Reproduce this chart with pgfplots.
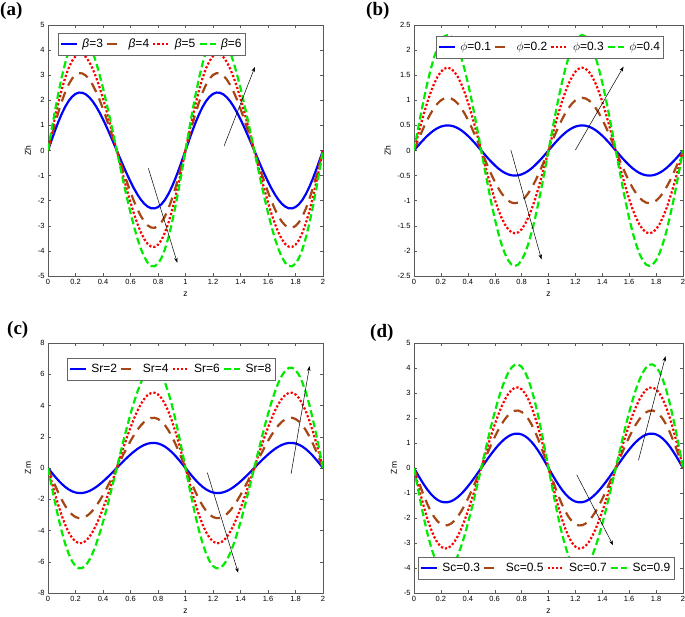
\documentclass[border=0pt]{standalone}
\usepackage{fontspec}
\setmainfont{Liberation Sans}
\newfontfamily\panelfont{Liberation Serif}
\usepackage{pgfplots}
\pgfplotsset{compat=1.18}
\usepackage{pgfplotstable}
\usetikzlibrary{arrows.meta}

\definecolor{cblue}{RGB}{0,0,255}
\definecolor{cbrown}{RGB}{165,70,20}
\definecolor{cred}{RGB}{255,0,0}
\definecolor{cgreen}{RGB}{0,235,0}

% panel (a): beta = 3,4,5,6
\pgfplotstableread{
z a b c d
0 0 0 0 0
0.025 0.395 0.528 0.658 0.791
0.05 0.778 1.039 1.296 1.557
0.075 1.137 1.518 1.894 2.274
0.1 1.461 1.951 2.433 2.923
0.125 1.741 2.324 2.900 3.483
0.15 1.970 2.630 3.281 3.940
0.175 2.142 2.860 3.568 4.285
0.2 2.255 3.010 3.755 4.510
0.225 2.307 3.080 3.842 4.614
0.25 2.300 3.070 3.830 4.600
0.275 2.236 2.985 3.724 4.472
0.3 2.120 2.830 3.530 4.240
0.325 1.956 2.611 3.258 3.913
0.35 1.751 2.338 2.916 3.503
0.375 1.511 2.017 2.517 3.023
0.4 1.243 1.659 2.069 2.485
0.425 0.951 1.270 1.584 1.902
0.45 0.643 0.859 1.071 1.286
0.475 0.324 0.433 0.540 0.649
0.5 0 0 0 0
0.525 -0.324 -0.433 -0.540 -0.649
0.55 -0.643 -0.859 -1.071 -1.286
0.575 -0.951 -1.270 -1.584 -1.902
0.6 -1.243 -1.659 -2.069 -2.485
0.625 -1.511 -2.017 -2.517 -3.023
0.65 -1.751 -2.338 -2.916 -3.503
0.675 -1.956 -2.611 -3.258 -3.913
0.7 -2.120 -2.830 -3.530 -4.240
0.725 -2.236 -2.985 -3.724 -4.472
0.75 -2.300 -3.070 -3.830 -4.600
0.775 -2.307 -3.080 -3.842 -4.614
0.8 -2.255 -3.010 -3.755 -4.510
0.825 -2.142 -2.860 -3.568 -4.285
0.85 -1.970 -2.630 -3.281 -3.940
0.875 -1.741 -2.324 -2.900 -3.483
0.9 -1.461 -1.951 -2.433 -2.923
0.925 -1.137 -1.518 -1.894 -2.274
0.95 -0.778 -1.039 -1.296 -1.557
0.975 -0.395 -0.528 -0.658 -0.791
1 0 0 0 0
1.025 0.395 0.528 0.658 0.791
1.05 0.778 1.039 1.296 1.557
1.075 1.137 1.518 1.894 2.274
1.1 1.461 1.951 2.433 2.923
1.125 1.741 2.324 2.900 3.483
1.15 1.970 2.630 3.281 3.940
1.175 2.142 2.860 3.568 4.285
1.2 2.255 3.010 3.755 4.510
1.225 2.307 3.080 3.842 4.614
1.25 2.300 3.070 3.830 4.600
1.275 2.236 2.985 3.724 4.472
1.3 2.120 2.830 3.530 4.240
1.325 1.956 2.611 3.258 3.913
1.35 1.751 2.338 2.916 3.503
1.375 1.511 2.017 2.517 3.023
1.4 1.243 1.659 2.069 2.485
1.425 0.951 1.270 1.584 1.902
1.45 0.643 0.859 1.071 1.286
1.475 0.324 0.433 0.540 0.649
1.5 0 0 0 0
1.525 -0.324 -0.433 -0.540 -0.649
1.55 -0.643 -0.859 -1.071 -1.286
1.575 -0.951 -1.270 -1.584 -1.902
1.6 -1.243 -1.659 -2.069 -2.485
1.625 -1.511 -2.017 -2.517 -3.023
1.65 -1.751 -2.338 -2.916 -3.503
1.675 -1.956 -2.611 -3.258 -3.913
1.7 -2.120 -2.830 -3.530 -4.240
1.725 -2.236 -2.985 -3.724 -4.472
1.75 -2.300 -3.070 -3.830 -4.600
1.775 -2.307 -3.080 -3.842 -4.614
1.8 -2.255 -3.010 -3.755 -4.510
1.825 -2.142 -2.860 -3.568 -4.285
1.85 -1.970 -2.630 -3.281 -3.940
1.875 -1.741 -2.324 -2.900 -3.483
1.9 -1.461 -1.951 -2.433 -2.923
1.925 -1.137 -1.518 -1.894 -2.274
1.95 -0.778 -1.039 -1.296 -1.557
1.975 -0.395 -0.528 -0.658 -0.791
2 0 0 0 0
}\tabA

% panel (b): phi = 0.1,0.2,0.3,0.4
\pgfplotstableread{
z a b c d
0 0 0 0 0
0.025 0.078 0.164 0.258 0.360
0.05 0.155 0.324 0.510 0.711
0.075 0.227 0.477 0.749 1.044
0.1 0.294 0.617 0.970 1.352
0.125 0.354 0.742 1.167 1.626
0.15 0.405 0.849 1.335 1.861
0.175 0.446 0.936 1.470 2.049
0.2 0.476 0.999 1.569 2.187
0.225 0.494 1.037 1.630 2.272
0.25 0.500 1.050 1.650 2.300
0.275 0.494 1.037 1.630 2.272
0.3 0.476 0.999 1.569 2.187
0.325 0.446 0.936 1.470 2.049
0.35 0.405 0.849 1.335 1.861
0.375 0.354 0.742 1.167 1.626
0.4 0.294 0.617 0.970 1.352
0.425 0.227 0.477 0.749 1.044
0.45 0.155 0.324 0.510 0.711
0.475 0.078 0.164 0.258 0.360
0.5 0 0 0 0
0.525 -0.078 -0.164 -0.258 -0.360
0.55 -0.155 -0.324 -0.510 -0.711
0.575 -0.227 -0.477 -0.749 -1.044
0.6 -0.294 -0.617 -0.970 -1.352
0.625 -0.354 -0.742 -1.167 -1.626
0.65 -0.405 -0.849 -1.335 -1.861
0.675 -0.446 -0.936 -1.470 -2.049
0.7 -0.476 -0.999 -1.569 -2.187
0.725 -0.494 -1.037 -1.630 -2.272
0.75 -0.500 -1.050 -1.650 -2.300
0.775 -0.494 -1.037 -1.630 -2.272
0.8 -0.476 -0.999 -1.569 -2.187
0.825 -0.446 -0.936 -1.470 -2.049
0.85 -0.405 -0.849 -1.335 -1.861
0.875 -0.354 -0.742 -1.167 -1.626
0.9 -0.294 -0.617 -0.970 -1.352
0.925 -0.227 -0.477 -0.749 -1.044
0.95 -0.155 -0.324 -0.510 -0.711
0.975 -0.078 -0.164 -0.258 -0.360
1 0 0 0 0
1.025 0.078 0.164 0.258 0.360
1.05 0.155 0.324 0.510 0.711
1.075 0.227 0.477 0.749 1.044
1.1 0.294 0.617 0.970 1.352
1.125 0.354 0.742 1.167 1.626
1.15 0.405 0.849 1.335 1.861
1.175 0.446 0.936 1.470 2.049
1.2 0.476 0.999 1.569 2.187
1.225 0.494 1.037 1.630 2.272
1.25 0.500 1.050 1.650 2.300
1.275 0.494 1.037 1.630 2.272
1.3 0.476 0.999 1.569 2.187
1.325 0.446 0.936 1.470 2.049
1.35 0.405 0.849 1.335 1.861
1.375 0.354 0.742 1.167 1.626
1.4 0.294 0.617 0.970 1.352
1.425 0.227 0.477 0.749 1.044
1.45 0.155 0.324 0.510 0.711
1.475 0.078 0.164 0.258 0.360
1.5 0 0 0 0
1.525 -0.078 -0.164 -0.258 -0.360
1.55 -0.155 -0.324 -0.510 -0.711
1.575 -0.227 -0.477 -0.749 -1.044
1.6 -0.294 -0.617 -0.970 -1.352
1.625 -0.354 -0.742 -1.167 -1.626
1.65 -0.405 -0.849 -1.335 -1.861
1.675 -0.446 -0.936 -1.470 -2.049
1.7 -0.476 -0.999 -1.569 -2.187
1.725 -0.494 -1.037 -1.630 -2.272
1.75 -0.500 -1.050 -1.650 -2.300
1.775 -0.494 -1.037 -1.630 -2.272
1.8 -0.476 -0.999 -1.569 -2.187
1.825 -0.446 -0.936 -1.470 -2.049
1.85 -0.405 -0.849 -1.335 -1.861
1.875 -0.354 -0.742 -1.167 -1.626
1.9 -0.294 -0.617 -0.970 -1.352
1.925 -0.227 -0.477 -0.749 -1.044
1.95 -0.155 -0.324 -0.510 -0.711
1.975 -0.078 -0.164 -0.258 -0.360
2 0 0 0 0
}\tabB

% panel (c): Sr = 2,4,6,8
\pgfplotstableread{
z a b c d
0 0 0 0 0
0.025 -0.275 -0.550 -0.825 -1.100
0.05 -0.541 -1.083 -1.624 -2.166
0.075 -0.791 -1.582 -2.373 -3.164
0.1 -1.017 -2.033 -3.050 -4.066
0.125 -1.211 -2.423 -3.634 -4.846
0.15 -1.371 -2.741 -4.112 -5.482
0.175 -1.490 -2.981 -4.471 -5.961
0.2 -1.569 -3.137 -4.706 -6.275
0.225 -1.605 -3.210 -4.815 -6.420
0.25 -1.600 -3.200 -4.800 -6.400
0.275 -1.556 -3.111 -4.667 -6.222
0.3 -1.475 -2.949 -4.424 -5.899
0.325 -1.361 -2.722 -4.083 -5.444
0.35 -1.218 -2.437 -3.655 -4.873
0.375 -1.051 -2.103 -3.154 -4.206
0.4 -0.864 -1.729 -2.593 -3.458
0.425 -0.662 -1.323 -1.985 -2.647
0.45 -0.447 -0.895 -1.342 -1.790
0.475 -0.226 -0.451 -0.677 -0.902
0.5 0 0 0 0
0.525 0.226 0.451 0.677 0.902
0.55 0.447 0.895 1.342 1.790
0.575 0.662 1.323 1.985 2.647
0.6 0.864 1.729 2.593 3.458
0.625 1.051 2.103 3.154 4.206
0.65 1.218 2.437 3.655 4.873
0.675 1.361 2.722 4.083 5.444
0.7 1.475 2.949 4.424 5.899
0.725 1.556 3.111 4.667 6.222
0.75 1.600 3.200 4.800 6.400
0.775 1.605 3.210 4.815 6.420
0.8 1.569 3.137 4.706 6.275
0.825 1.490 2.981 4.471 5.961
0.85 1.371 2.741 4.112 5.482
0.875 1.211 2.423 3.634 4.846
0.9 1.017 2.033 3.050 4.066
0.925 0.791 1.582 2.373 3.164
0.95 0.541 1.083 1.624 2.166
0.975 0.275 0.550 0.825 1.100
1 0 0 0 0
1.025 -0.275 -0.550 -0.825 -1.100
1.05 -0.541 -1.083 -1.624 -2.166
1.075 -0.791 -1.582 -2.373 -3.164
1.1 -1.017 -2.033 -3.050 -4.066
1.125 -1.211 -2.423 -3.634 -4.846
1.15 -1.371 -2.741 -4.112 -5.482
1.175 -1.490 -2.981 -4.471 -5.961
1.2 -1.569 -3.137 -4.706 -6.275
1.225 -1.605 -3.210 -4.815 -6.420
1.25 -1.600 -3.200 -4.800 -6.400
1.275 -1.556 -3.111 -4.667 -6.222
1.3 -1.475 -2.949 -4.424 -5.899
1.325 -1.361 -2.722 -4.083 -5.444
1.35 -1.218 -2.437 -3.655 -4.873
1.375 -1.051 -2.103 -3.154 -4.206
1.4 -0.864 -1.729 -2.593 -3.458
1.425 -0.662 -1.323 -1.985 -2.647
1.45 -0.447 -0.895 -1.342 -1.790
1.475 -0.226 -0.451 -0.677 -0.902
1.5 0 0 0 0
1.525 0.226 0.451 0.677 0.902
1.55 0.447 0.895 1.342 1.790
1.575 0.662 1.323 1.985 2.647
1.6 0.864 1.729 2.593 3.458
1.625 1.051 2.103 3.154 4.206
1.65 1.218 2.437 3.655 4.873
1.675 1.361 2.722 4.083 5.444
1.7 1.475 2.949 4.424 5.899
1.725 1.556 3.111 4.667 6.222
1.75 1.600 3.200 4.800 6.400
1.775 1.605 3.210 4.815 6.420
1.8 1.569 3.137 4.706 6.275
1.825 1.490 2.981 4.471 5.961
1.85 1.371 2.741 4.112 5.482
1.875 1.211 2.423 3.634 4.846
1.9 1.017 2.033 3.050 4.066
1.925 0.791 1.582 2.373 3.164
1.95 0.541 1.083 1.624 2.166
1.975 0.275 0.550 0.825 1.100
2 0 0 0 0
}\tabC

% panel (d): Sc = 0.3,0.5,0.7,0.9
\pgfplotstableread{
z a b c d
0 0 0 0 0
0.025 -0.235 -0.394 -0.552 -0.710
0.05 -0.464 -0.775 -1.086 -1.398
0.075 -0.677 -1.132 -1.587 -2.042
0.1 -0.870 -1.455 -2.039 -2.624
0.125 -1.037 -1.734 -2.430 -3.127
0.15 -1.174 -1.962 -2.750 -3.538
0.175 -1.276 -2.133 -2.990 -3.847
0.2 -1.343 -2.245 -3.147 -4.049
0.225 -1.374 -2.297 -3.220 -4.143
0.25 -1.370 -2.290 -3.210 -4.130
0.275 -1.332 -2.226 -3.121 -4.015
0.3 -1.263 -2.111 -2.959 -3.807
0.325 -1.165 -1.948 -2.730 -3.513
0.35 -1.043 -1.744 -2.444 -3.145
0.375 -0.900 -1.505 -2.109 -2.714
0.4 -0.740 -1.237 -1.734 -2.231
0.425 -0.567 -0.947 -1.328 -1.708
0.45 -0.383 -0.640 -0.898 -1.155
0.475 -0.193 -0.323 -0.453 -0.582
0.5 0 0 0 0
0.525 0.193 0.323 0.453 0.582
0.55 0.383 0.640 0.898 1.155
0.575 0.567 0.947 1.328 1.708
0.6 0.740 1.237 1.734 2.231
0.625 0.900 1.505 2.109 2.714
0.65 1.043 1.744 2.444 3.145
0.675 1.165 1.948 2.730 3.513
0.7 1.263 2.111 2.959 3.807
0.725 1.332 2.226 3.121 4.015
0.75 1.370 2.290 3.210 4.130
0.775 1.374 2.297 3.220 4.143
0.8 1.343 2.245 3.147 4.049
0.825 1.276 2.133 2.990 3.847
0.85 1.174 1.962 2.750 3.538
0.875 1.037 1.734 2.430 3.127
0.9 0.870 1.455 2.039 2.624
0.925 0.677 1.132 1.587 2.042
0.95 0.464 0.775 1.086 1.398
0.975 0.235 0.394 0.552 0.710
1 0 0 0 0
1.025 -0.235 -0.394 -0.552 -0.710
1.05 -0.464 -0.775 -1.086 -1.398
1.075 -0.677 -1.132 -1.587 -2.042
1.1 -0.870 -1.455 -2.039 -2.624
1.125 -1.037 -1.734 -2.430 -3.127
1.15 -1.174 -1.962 -2.750 -3.538
1.175 -1.276 -2.133 -2.990 -3.847
1.2 -1.343 -2.245 -3.147 -4.049
1.225 -1.374 -2.297 -3.220 -4.143
1.25 -1.370 -2.290 -3.210 -4.130
1.275 -1.332 -2.226 -3.121 -4.015
1.3 -1.263 -2.111 -2.959 -3.807
1.325 -1.165 -1.948 -2.730 -3.513
1.35 -1.043 -1.744 -2.444 -3.145
1.375 -0.900 -1.505 -2.109 -2.714
1.4 -0.740 -1.237 -1.734 -2.231
1.425 -0.567 -0.947 -1.328 -1.708
1.45 -0.383 -0.640 -0.898 -1.155
1.475 -0.193 -0.323 -0.453 -0.582
1.5 0 0 0 0
1.525 0.193 0.323 0.453 0.582
1.55 0.383 0.640 0.898 1.155
1.575 0.567 0.947 1.328 1.708
1.6 0.740 1.237 1.734 2.231
1.625 0.900 1.505 2.109 2.714
1.65 1.043 1.744 2.444 3.145
1.675 1.165 1.948 2.730 3.513
1.7 1.263 2.111 2.959 3.807
1.725 1.332 2.226 3.121 4.015
1.75 1.370 2.290 3.210 4.130
1.775 1.374 2.297 3.220 4.143
1.8 1.343 2.245 3.147 4.049
1.825 1.276 2.133 2.990 3.847
1.85 1.174 1.962 2.750 3.538
1.875 1.037 1.734 2.430 3.127
1.9 0.870 1.455 2.039 2.624
1.925 0.677 1.132 1.587 2.042
1.95 0.464 0.775 1.086 1.398
1.975 0.235 0.394 0.552 0.710
2 0 0 0 0
}\tabD

\tikzset{
  arr/.style={-{Stealth[length=5pt,width=3.5pt]}, black, line width=0.5pt, solid},
  s1/.style={cblue, solid},
  s2/.style={cbrown, dash pattern=on 10pt off 7pt},
  s3/.style={cred, dash pattern=on 2.2pt off 2pt},
  s4/.style={cgreen, dash pattern=on 7pt off 3.5pt},
}

\pgfplotsset{
  legend image code/.code={\draw[#1] (0pt,0pt) -- (16pt,0pt);},
  panel/.style={
    scale only axis, anchor=south west,
    xmin=0, xmax=2,
    xtick={0,0.2,0.4,0.6,0.8,1,1.2,1.4,1.6,1.8,2},
    tick align=inside,
    axis line style={gray!70!black, line width=0.4pt},
    major tick length=3pt,
    tick style={gray!70!black, line width=0.4pt},
    tick label style={font=\fontsize{7.5}{8}\selectfont},
    label style={font=\fontsize{8.5}{9}\selectfont},
    /pgf/number format/assume math mode=true,
    xlabel={z},
    legend columns=4,
    legend cell align=left,
    legend style={font=\fontsize{12}{13}\selectfont, draw=gray!80!black,
      fill=white, inner xsep=1.5pt, inner ysep=4pt,
      /tikz/every even column/.append style={column sep=1pt},
      /tikz/every odd column/.append style={column sep=2.5pt}},
    every axis plot/.append style={line width=2.2pt},
  },
}

\begin{document}
\begin{tikzpicture}
\path[use as bounding box] (0pt,0pt) rectangle (685pt,617pt);

% (a)
\begin{axis}[panel, at={(48pt,341pt)}, width=275pt, height=251pt,
  ymin=-5, ymax=5, ytick={-5,-4,-3,-2,-1,0,1,2,3,4,5}, ylabel={Zh},
  legend style={at={(0,1)}, anchor=north west, xshift=10pt, yshift=-8pt}]
\addplot[s1] table[x=z,y=a]{\tabA};
\addplot[s2] table[x=z,y=b]{\tabA};
\addplot[s3] table[x=z,y=c]{\tabA};
\addplot[s4] table[x=z,y=d]{\tabA};
\draw[arr] (axis cs:0.73,-0.71) -- (axis cs:0.94,-4.47);
\draw[arr] (axis cs:1.28,0.17) -- (axis cs:1.505,3.33);
\legend{\textit{β}=3, \textit{β}=4, \textit{β}=5, \textit{β}=6}
\end{axis}

% (b)
\begin{axis}[panel, at={(414pt,341pt)}, width=269pt, height=251pt,
  ymin=-2.5, ymax=2.5, ytick={-2.5,-2,-1.5,-1,-0.5,0,0.5,1,1.5,2,2.5}, ylabel={Zh},
  legend style={at={(0,1)}, anchor=north west, xshift=22pt, yshift=-11pt}]
\addplot[s1] table[x=z,y=a]{\tabB};
\addplot[s2] table[x=z,y=b]{\tabB};
\addplot[s3] table[x=z,y=c]{\tabB};
\addplot[s4] table[x=z,y=d]{\tabB};
\draw[arr] (axis cs:0.72,0.01) -- (axis cs:0.948,-2.17);
\draw[arr] (axis cs:1.2,0.01) -- (axis cs:1.558,1.67);
\legend{$\phi$=0.1, $\phi$=0.2, $\phi$=0.3, $\phi$=0.4}
\end{axis}

% (c)
\begin{axis}[panel, at={(48pt,24pt)}, width=275pt, height=250pt,
  ymin=-8, ymax=8, ytick={-8,-6,-4,-2,0,2,4,6,8}, ylabel={Zm},
  legend style={at={(0,1)}, anchor=north west, xshift=19pt, yshift=-15pt}]
\addplot[s1] table[x=z,y=a]{\tabC};
\addplot[s2] table[x=z,y=b]{\tabC};
\addplot[s3] table[x=z,y=c]{\tabC};
\addplot[s4] table[x=z,y=d]{\tabC};
\draw[arr] (axis cs:1.159,-0.30) -- (axis cs:1.383,-6.7);
\draw[arr] (axis cs:1.768,-0.37) -- (axis cs:1.902,6.52);
\legend{Sr=2, Sr=4, Sr=6, Sr=8}
\end{axis}

% (d)
\begin{axis}[panel, at={(414pt,24pt)}, width=269pt, height=250pt,
  ymin=-5, ymax=5, ytick={-5,-4,-3,-2,-1,0,1,2,3,4,5}, ylabel={Zm},
  legend style={at={(0,0)}, anchor=south west, xshift=4pt, yshift=14pt}]
\addplot[s1] table[x=z,y=a]{\tabD};
\addplot[s2] table[x=z,y=b]{\tabD};
\addplot[s3] table[x=z,y=c]{\tabD};
\addplot[s4] table[x=z,y=d]{\tabD};
\draw[arr] (axis cs:1.21,-0.27) -- (axis cs:1.48,-3.09);
\draw[arr] (axis cs:1.669,0.31) -- (axis cs:1.87,4.47);
\legend{Sc=0.3, Sc=0.5, Sc=0.7, Sc=0.9}
\end{axis}

\node[anchor=north west, inner sep=0pt, font=\panelfont\bfseries\fontsize{19}{19}\selectfont] at (0pt,615pt) {(a)};
\node[anchor=north west, inner sep=0pt, font=\panelfont\bfseries\fontsize{19}{19}\selectfont] at (366pt,615pt) {(b)};
\node[anchor=north west, inner sep=0pt, font=\panelfont\bfseries\fontsize{19}{19}\selectfont] at (7pt,296pt) {(c)};
\node[anchor=north west, inner sep=0pt, font=\panelfont\bfseries\fontsize{19}{19}\selectfont] at (370pt,293pt) {(d)};
\end{tikzpicture}
\end{document}
